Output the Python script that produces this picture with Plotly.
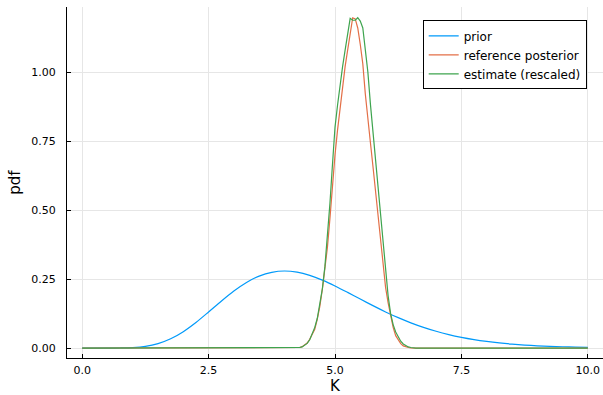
import plotly.graph_objects as go

# ---- data ----
prior_K = [0.0, 0.25, 0.5, 0.75, 1.0, 1.25, 1.5, 1.75, 2.0, 2.25, 2.5, 2.75, 3.0, 3.25, 3.5, 3.75,
           4.0, 4.25, 4.5, 4.75, 5.0, 5.25, 5.5, 5.75, 6.0, 6.25, 6.5, 6.75, 7.0, 7.25, 7.5, 7.75,
           8.0, 8.25, 8.5, 8.75, 9.0, 9.25, 9.5, 9.75, 10.0]
prior_pdf = [0.000, 0.000, 0.000, 0.0003, 0.0017, 0.0062, 0.0162, 0.0337, 0.0595, 0.0927, 0.1306,
             0.1697, 0.2065, 0.2376, 0.2608, 0.2746, 0.2792, 0.2750, 0.2635, 0.2463, 0.2252, 0.2018,
             0.1776, 0.1537, 0.1310, 0.1102, 0.0915, 0.0750, 0.0609, 0.0489, 0.0389, 0.0307, 0.0240,
             0.0186, 0.0143, 0.0110, 0.0083, 0.0063, 0.0047, 0.0035, 0.0026]

post_K = [0.0, 4.20, 4.25, 4.30, 4.35, 4.40, 4.45, 4.50, 4.55, 4.60, 4.65, 4.70, 4.75, 4.80, 4.85,
          4.90, 4.95, 5.00, 5.05, 5.10, 5.15, 5.20, 5.25, 5.30, 5.35, 5.40, 5.45, 5.50, 5.55, 5.60,
          5.65, 5.70, 5.75, 5.80, 5.85, 5.90, 5.95, 6.00, 6.05, 6.10, 6.15, 6.20, 6.25, 6.30, 6.35,
          6.40, 6.45, 6.50, 6.55, 6.60, 10.0]
ref_pdf = [0.0, 0.000, 0.001, 0.002, 0.005, 0.010, 0.018, 0.032, 0.049, 0.068, 0.105, 0.151, 0.213,
           0.280, 0.365, 0.470, 0.600, 0.700, 0.790, 0.870, 0.950, 1.020, 1.080, 1.140, 1.197, 1.193,
           1.160, 1.100, 1.030, 0.920, 0.820, 0.745, 0.660, 0.570, 0.480, 0.385, 0.295, 0.220, 0.165,
           0.115, 0.075, 0.045, 0.028, 0.016, 0.008, 0.004, 0.002, 0.001, 0.000, 0.000, 0.0]
est_pdf = [0.0, 0.000, 0.001, 0.002, 0.004, 0.009, 0.017, 0.030, 0.050, 0.075, 0.108, 0.155, 0.215,
           0.295, 0.400, 0.525, 0.665, 0.800, 0.880, 0.955, 1.020, 1.080, 1.140, 1.195, 1.188, 1.188,
           1.197, 1.185, 1.160, 1.080, 1.000, 0.885, 0.785, 0.690, 0.590, 0.480, 0.380, 0.280, 0.190,
           0.125, 0.085, 0.058, 0.040, 0.025, 0.015, 0.008, 0.004, 0.002, 0.001, 0.000, 0.0]

x_ticks = [0.0, 2.5, 5.0, 7.5, 10.0]
x_ticklabels = ["0.0", "2.5", "5.0", "7.5", "10.0"]
y_ticks = [0.0, 0.25, 0.5, 0.75, 1.0]
y_ticklabels = ["0.00", "0.25", "0.50", "0.75", "1.00"]

FONT = "DejaVu Sans"

fig = go.Figure()
fig.add_trace(go.Scatter(x=prior_K, y=prior_pdf, mode="lines", name="prior",
                         line=dict(color="#009AFA", width=1.2, shape="spline", smoothing=0.8)))
fig.add_trace(go.Scatter(x=post_K, y=ref_pdf, mode="lines", name="reference posterior",
                         line=dict(color="#E36F47", width=1.2)))
fig.add_trace(go.Scatter(x=post_K, y=est_pdf, mode="lines", name="estimate (rescaled)",
                         line=dict(color="#3EA44E", width=1.2)))

axis_common = dict(
    showgrid=True, gridcolor="#e6e6e6", gridwidth=1,
    zeroline=False, showline=True, linecolor="black", linewidth=1,
    ticks="inside", ticklen=4, tickwidth=1, tickcolor="black",
    tickfont=dict(family=FONT, size=11, color="black"),
    mirror=False,
)

fig.update_layout(
    width=603, height=395,
    margin=dict(l=67, r=0, t=7, b=37),
    paper_bgcolor="white", plot_bgcolor="white",
    font=dict(family=FONT, color="black"),
    xaxis=dict(range=[-0.3, 10.3], tickvals=x_ticks, ticktext=x_ticklabels,
               title=dict(text="K", font=dict(family=FONT, size=15), standoff=4),
               ticklabelstandoff=2, **axis_common),
    yaxis=dict(range=[-0.036, 1.236], tickvals=y_ticks, ticktext=y_ticklabels,
               title=dict(text="pdf", font=dict(family=FONT, size=15), standoff=7),
               ticklabelstandoff=8, **axis_common),
    legend=dict(x=0.9696, y=0.962, xanchor="right", yanchor="top",
                bgcolor="white", bordercolor="black", borderwidth=1,
                font=dict(family=FONT, size=12, color="black"),
                tracegroupgap=0),
    showlegend=True,
)

fig.write_html("out.html")
